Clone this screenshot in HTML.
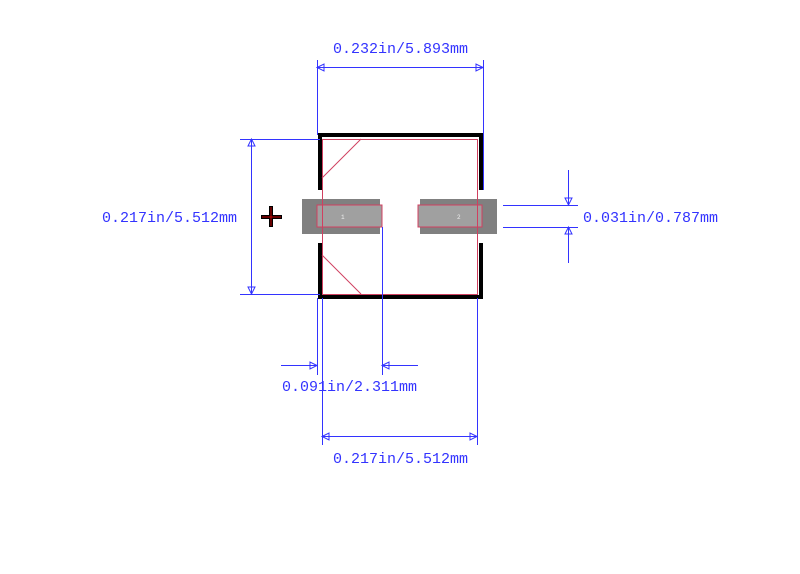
<!DOCTYPE html>
<html><head><meta charset="utf-8"><style>
html,body{margin:0;padding:0;background:#fff;width:800px;height:574px;overflow:hidden}
text{font-family:"Liberation Mono","Noto Serif CJK SC",monospace;font-size:15px;fill:#3333ff}
</style></head><body>
<svg width="800" height="574" viewBox="0 0 800 574" xmlns="http://www.w3.org/2000/svg">
<g fill="none" stroke="#000" stroke-width="4">
<polyline points="320,190 320,135 481,135 481,190"/>
<polyline points="320,243 320,297 481,297 481,243"/>
</g>
<rect x="302" y="199" width="78" height="35" fill="#808080"/>
<rect x="420" y="199" width="77" height="35" fill="#808080"/>
<rect x="317" y="205" width="65" height="22" fill="#a0a0a0" stroke="#d04060" stroke-width="1"/>
<rect x="418" y="205" width="64" height="22" fill="#a0a0a0" stroke="#d04060" stroke-width="1"/>
<text x="341" y="219" style="font-size:6px;fill:#eee">1</text>
<text x="457" y="219" style="font-size:6px;fill:#eee">2</text>
<g stroke="#d04060" stroke-width="1" fill="none">
<rect x="322.5" y="139.5" width="155" height="155"/>
<line x1="322" y1="178" x2="361" y2="139"/>
<line x1="322" y1="255" x2="361" y2="294"/>
</g>
<g stroke="#000" stroke-width="4"><line x1="261" y1="217" x2="282" y2="217"/><line x1="271" y1="206" x2="271" y2="227"/></g>
<g stroke="#c00" stroke-width="1"><line x1="262" y1="217" x2="281" y2="217"/><line x1="271" y1="207" x2="271" y2="226"/></g>
<g stroke="#3333ff" stroke-width="1" fill="none">
<line x1="317.5" y1="60" x2="317.5" y2="135"/><line x1="483.5" y1="60" x2="483.5" y2="190"/>
<line x1="317" y1="67.5" x2="483" y2="67.5"/>
<polygon points="317,67.5 324,64 324,71"/><polygon points="483,67.5 476,64 476,71"/>
<line x1="240" y1="139.5" x2="320" y2="139.5"/><line x1="240" y1="294.5" x2="320" y2="294.5"/>
<line x1="251.5" y1="139" x2="251.5" y2="294"/>
<polygon points="251.5,139 248,146 255,146"/><polygon points="251.5,294 248,287 255,287"/>
<line x1="503" y1="205.5" x2="578" y2="205.5"/><line x1="503" y1="227.5" x2="578" y2="227.5"/>
<line x1="568.5" y1="170" x2="568.5" y2="205"/><line x1="568.5" y1="227" x2="568.5" y2="263"/>
<polygon points="568.5,205 565,198 572,198"/><polygon points="568.5,227 565,234 572,234"/>
<line x1="317.5" y1="298" x2="317.5" y2="375"/><line x1="382.5" y1="227" x2="382.5" y2="375"/>
<line x1="281" y1="365.5" x2="317" y2="365.5"/><line x1="382" y1="365.5" x2="418" y2="365.5"/>
<polygon points="317,365.5 310,362 310,369"/><polygon points="382,365.5 389,362 389,369"/>
<line x1="322.5" y1="298" x2="322.5" y2="445"/><line x1="477.5" y1="298" x2="477.5" y2="445"/>
<line x1="322" y1="436.5" x2="477" y2="436.5"/>
<polygon points="322,436.5 329,433 329,440"/><polygon points="477,436.5 470,433 470,440"/>
</g>
<text x="333" y="53">0.232in/5.893mm</text>
<text x="102" y="222">0.217in/5.512mm</text>
<text x="583" y="222">0.031in/0.787mm</text>
<text x="282" y="391">0.091in/2.311mm</text>
<text x="333" y="463">0.217in/5.512mm</text>
</svg>
</body></html>
